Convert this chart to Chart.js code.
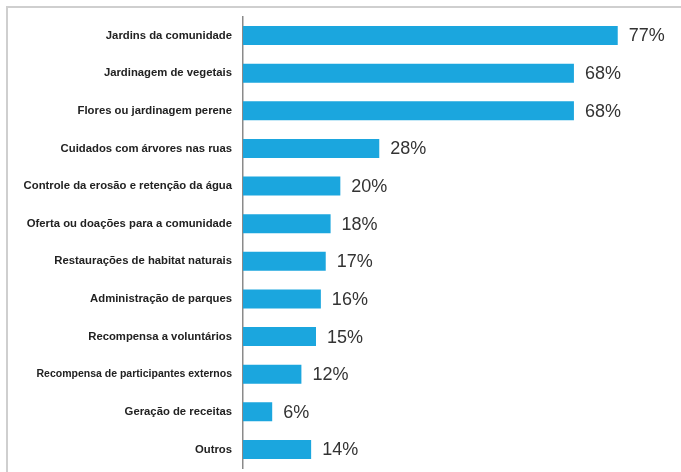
<!DOCTYPE html>
<html>
<head>
<meta charset="utf-8">
<script src="https://cdn.jsdelivr.net/npm/chart.js@4"></script>
<style>
  html, body { margin: 0; padding: 0; background: #fff; overflow: hidden; }
  #frame {
    position: absolute; left: 6px; top: 6px; width: 700px; height: 500px;
    border-top: 2px solid #cfcfcf; border-left: 2px solid #cfcfcf;
  }
  #wrap { position: absolute; left: 0; top: 0; width: 681px; height: 472px; }
  canvas { display: block; }
</style>
</head>
<body>
<div id="frame"></div>
<div id="wrap"><canvas id="c" width="681" height="472"></canvas></div>
<script>
// Atividades e respectivas percentagens
const categories = [
  "Jardins da comunidade",
  "Jardinagem de vegetais",
  "Flores ou jardinagem perene",
  "Cuidados com árvores nas ruas",
  "Controle da erosão e retenção da água",
  "Oferta ou doações para a comunidade",
  "Restaurações de habitat naturais",
  "Administração de parques",
  "Recompensa a voluntários",
  "Recompensa de participantes externos",
  "Geração de receitas",
  "Outros"
];
const percentages = [77, 68, 68, 28, 20, 18, 17, 16, 15, 12, 6, 14];

// Rótulo de valor à direita de cada barra
const valueLabels = {
  id: 'valueLabels',
  afterDatasetsDraw(chart) {
    const ctx = chart.ctx;
    const meta = chart.getDatasetMeta(0);
    ctx.save();
    ctx.font = '18px "Liberation Sans", Arial, sans-serif';
    ctx.fillStyle = '#333333';
    ctx.textAlign = 'left';
    ctx.textBaseline = 'middle';
    meta.data.forEach((bar, i) => {
      ctx.fillText(percentages[i] + '%', bar.x + 11, bar.y + 1);
    });
    ctx.restore();
  }
};

new Chart(document.getElementById('c'), {
  type: 'bar',
  data: {
    labels: categories,
    datasets: [{
      data: percentages,
      backgroundColor: '#1ba6de',
      borderWidth: 0,
      barPercentage: 0.505,
      categoryPercentage: 1.0
    }]
  },
  options: {
    indexAxis: 'y',
    responsive: false,
    animation: false,
    layout: { padding: { top: 16.7, bottom: 3.7, left: 0, right: 0 } },
    plugins: { legend: { display: false }, tooltip: { enabled: false } },
    scales: {
      x: { display: false, min: 0, max: 90 },
      y: {
        afterFit(scale) {
          scale.width = 243;
          scale.paddingTop = 0;
          scale.paddingBottom = 0;
        },
        grid: { display: false, drawTicks: false },
        border: { display: true, color: '#8a8a8a', width: 1.5 },
        ticks: {
          padding: 11,
          color: '#222222',
          font: (ctx) => ({
            family: '"Liberation Sans", Arial, sans-serif',
            size: ctx.index === 9 ? 10.5 : 11.3,
            weight: 'bold'
          })
        }
      }
    }
  },
  plugins: [valueLabels]
});
</script>
</body>
</html>
